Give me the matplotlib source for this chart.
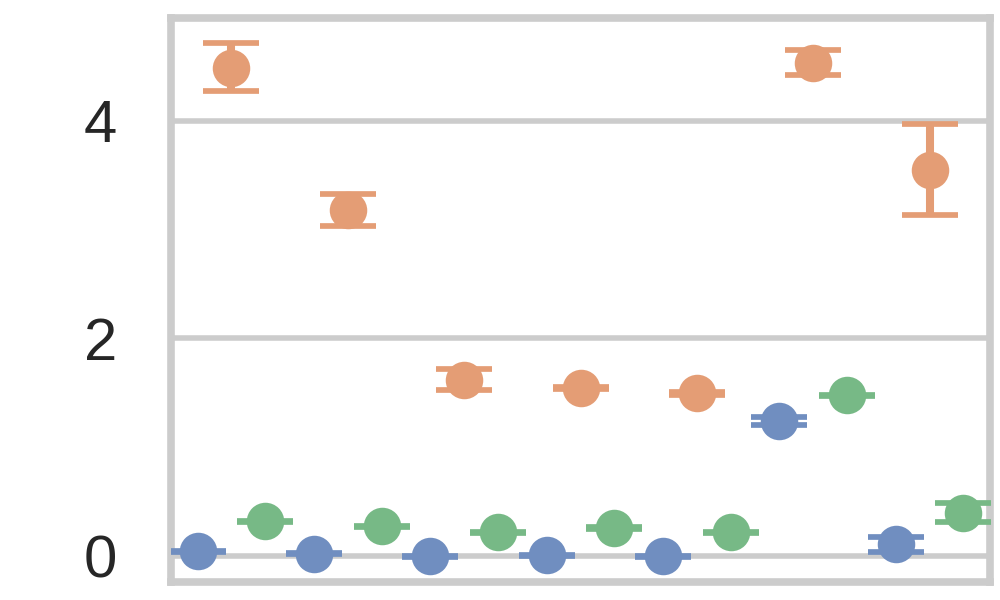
import matplotlib
matplotlib.use("Agg")
import matplotlib.pyplot as plt
import numpy as np

plt.rcParams['font.family'] = ['Liberation Sans', 'DejaVu Sans']

# ---- data ----
categories = ['c1', 'c2', 'c3', 'c4', 'c5', 'c6', 'c7']

series_a_mean = [0.045, 0.025, 0.0, 0.01, 0.0, 1.24, 0.11]
series_a_low = [0.04, 0.02, -0.005, 0.005, -0.005, 1.21, 0.04]
series_a_high = [0.05, 0.03, 0.005, 0.015, 0.005, 1.275, 0.18]

series_b_mean = [4.48, 3.18, 1.62, 1.545, 1.495, 4.53, 3.55]
series_b_low = [4.27, 3.03, 1.53, 1.535, 1.485, 4.42, 3.13]
series_b_high = [4.71, 3.33, 1.72, 1.555, 1.505, 4.65, 3.97]

series_c_mean = [0.32, 0.276, 0.22, 0.26, 0.22, 1.48, 0.40]
series_c_low = [0.315, 0.271, 0.215, 0.255, 0.215, 1.475, 0.315]
series_c_high = [0.325, 0.281, 0.225, 0.265, 0.225, 1.485, 0.49]

y_ticks = [0, 2, 4]
y_tick_labels = ['0', '2', '4']

# ---- styling ----
colors = ['#708EC0', '#E49D75', '#77B986']
offsets = [-0.29, 0.0, 0.29]

fig = plt.figure(figsize=(10, 6), dpi=100)
ax = fig.add_axes([0.171, 0.03, 0.819, 0.9395])

series = [
    (series_a_mean, series_a_low, series_a_high),
    (series_b_mean, series_b_low, series_b_high),
    (series_c_mean, series_c_low, series_c_high),
]

x = np.arange(len(categories))
z = 3
for (mean, low, high), col, off in zip(series, colors, offsets):
    mean = np.asarray(mean)
    yerr = np.vstack([mean - np.asarray(low), np.asarray(high) - mean])
    ax.errorbar(x + off, mean, yerr=yerr, fmt='none', ecolor=col,
                elinewidth=5.8, capsize=20, capthick=4.1, zorder=z)
    ax.plot(x + off, mean, linestyle='none', marker='o', ms=27, mew=0,
            color=col, zorder=z + 1)
    z += 2

ax.set_xlim(-0.52, len(categories) - 1 + 0.52)
ax.set_ylim(-0.236, 4.94)
ax.set_xticks([])
ax.set_yticks(y_ticks)
ax.set_yticklabels(y_tick_labels)
ax.tick_params(axis='y', length=0, pad=39, labelsize=43, labelcolor='#262626')

ax.grid(axis='y', color='#cccccc', linewidth=4)
ax.grid(axis='x', visible=False)
ax.set_axisbelow(True)
for sp in ax.spines.values():
    sp.set_color('#cccccc')
    sp.set_linewidth(5.5)

fig.savefig('out.png', dpi=100)
